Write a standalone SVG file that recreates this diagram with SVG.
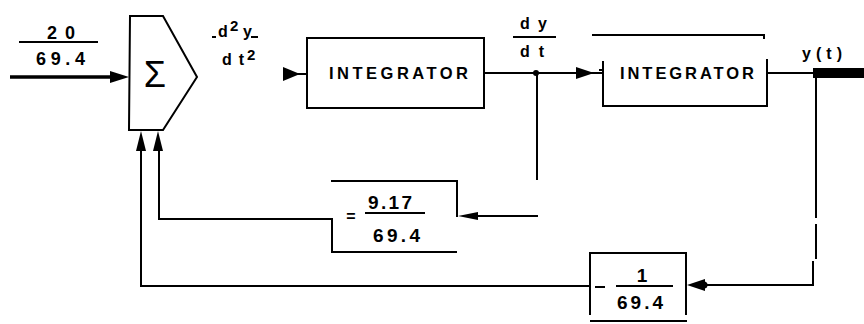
<svg xmlns="http://www.w3.org/2000/svg" width="864" height="324" viewBox="0 0 864 324">
<style>
  .ln{fill:none;stroke:#000;stroke-width:2;stroke-linecap:square}
  .tk{fill:none;stroke:#000;stroke-width:3.5}
  .ah{fill:#000;stroke:none}
  .t{font-family:"Liberation Sans",Arial,sans-serif;font-weight:bold;fill:#000}
</style>
<rect width="864" height="324" fill="#fff"/>

<g id="sum">
  <path class="ln" d="M130,16 L163,16 L197,77 L163,130 L129,130 Z"/>
  <text x="155" y="87" font-family="Liberation Sans,Arial,sans-serif" font-size="36" text-anchor="middle">Σ</text>
</g>

<g id="integrator1">
  <rect class="ln" x="307" y="38" width="177" height="70"/>
  <text class="t" x="329" y="79" font-size="16.5" textLength="139" lengthAdjust="spacing">INTEGRATOR</text>
</g>

<g id="integrator2">
  <path class="ln" d="M593,35 L764,35 L764,38"/>
  <path class="ln" d="M603,62 L603,106 L767,106 L767,60"/>
  <path class="ln" d="M600,70 L603,70"/>
  <text class="t" x="620" y="79" font-size="16.5" textLength="134" lengthAdjust="spacing">INTEGRATOR</text>
</g>

<g id="gain1">
  <path class="ln" d="M332,181 L457,181 L457,216"/>
  <path class="ln" d="M332,219 L332,252 L456,252"/>
  <text class="t" x="351" y="222" font-size="16" text-anchor="middle">=</text>
  <text class="t" x="368" y="209" font-size="19" textLength="44" lengthAdjust="spacing">9.17</text>
  <path class="ln" d="M366,213 L424,213" stroke-width="2.5"/>
  <text class="t" x="373" y="242" font-size="19" textLength="47" lengthAdjust="spacing">69.4</text>
</g>

<g id="gain2">
  <path class="ln" d="M590,253 L686,253"/>
  <path class="ln" d="M590,253 L590,314"/>
  <path class="ln" d="M686,253 L686,314"/>
  <path class="ln" d="M591,321 L686,321"/>
  <path class="ln" d="M596,287 L604,287"/>
  <text class="t" x="642" y="282" font-size="19" text-anchor="middle">1</text>
  <path class="ln" d="M617,286 L672,286"/>
  <text class="t" x="617" y="309" font-size="19" textLength="46" lengthAdjust="spacing">69.4</text>
</g>

<g id="labels">
  <text class="t" x="47" y="39" font-size="18" textLength="28" lengthAdjust="spacing">20</text>
  <path class="ln" d="M20,42 L97,42"/>
  <text class="t" x="36" y="65" font-size="18" textLength="49" lengthAdjust="spacing">69.4</text>

  <text class="t" x="218" y="37" font-size="16">d</text>
  <text class="t" x="230" y="31" font-size="15">2</text>
  <text class="t" x="243" y="37" font-size="16">y</text>
  <path class="ln" d="M213,37 L215,37"/>
  <path class="ln" d="M252,37 L257,37"/>
  <text class="t" x="222" y="65" font-size="16" textLength="22" lengthAdjust="spacing">dt</text>
  <text class="t" x="247" y="60" font-size="15">2</text>

  <text class="t" x="520" y="29" font-size="16" textLength="27" lengthAdjust="spacing">dy</text>
  <path class="ln" d="M514,37 L555,37"/>
  <text class="t" x="520" y="57" font-size="16" textLength="24" lengthAdjust="spacing">dt</text>

  <text class="t" x="802" y="59" font-size="16" textLength="40" lengthAdjust="spacing">y(t)</text>
</g>

<g id="connectors">
  <path class="tk" d="M10,77 L114,77"/>
  <path class="ah" d="M129,77 L110,71 L110,83 Z"/>
  <path class="ah" d="M300,74 L283,67 L283,81 Z"/>
  <path class="ln" d="M298,74 L307,74" stroke-width="3"/>
  <path class="ln" d="M484,73 L592,73"/>
  <circle cx="536" cy="73" r="3"/>
  <path class="ah" d="M594,73 L576,67 L576,79 Z"/>
  <path class="ln" d="M594,73 L603,73"/>
  <path class="ln" d="M767,73 L814,73"/>
  <rect x="813" y="68" width="51" height="10" fill="#000"/>
  <path class="ln" d="M537,73 L537,179"/>
  <path class="ln" d="M476,216 L537,216"/>
  <path class="ah" d="M458,216 L478,212 L478,220 Z"/>
  <path class="ln" d="M332,219 L159,219 L159,148"/>
  <path class="ah" d="M158,131 L153,151 L163,151 Z"/>
  <path class="ln" d="M816,78 L816,217"/>
  <path class="ln" d="M816,225 L816,258" stroke-width="3"/>
  <path class="ln" d="M813,262 L813,285 L704,285"/>
  <path class="ah" d="M687,285 L705,279 L705,291 Z"/>
  <circle cx="704" cy="285" r="3.5"/>
  <path class="ln" d="M590,286 L141,286 L141,148"/>
  <path class="ah" d="M141,131 L136,151 L146,151 Z"/>
</g>
</svg>
